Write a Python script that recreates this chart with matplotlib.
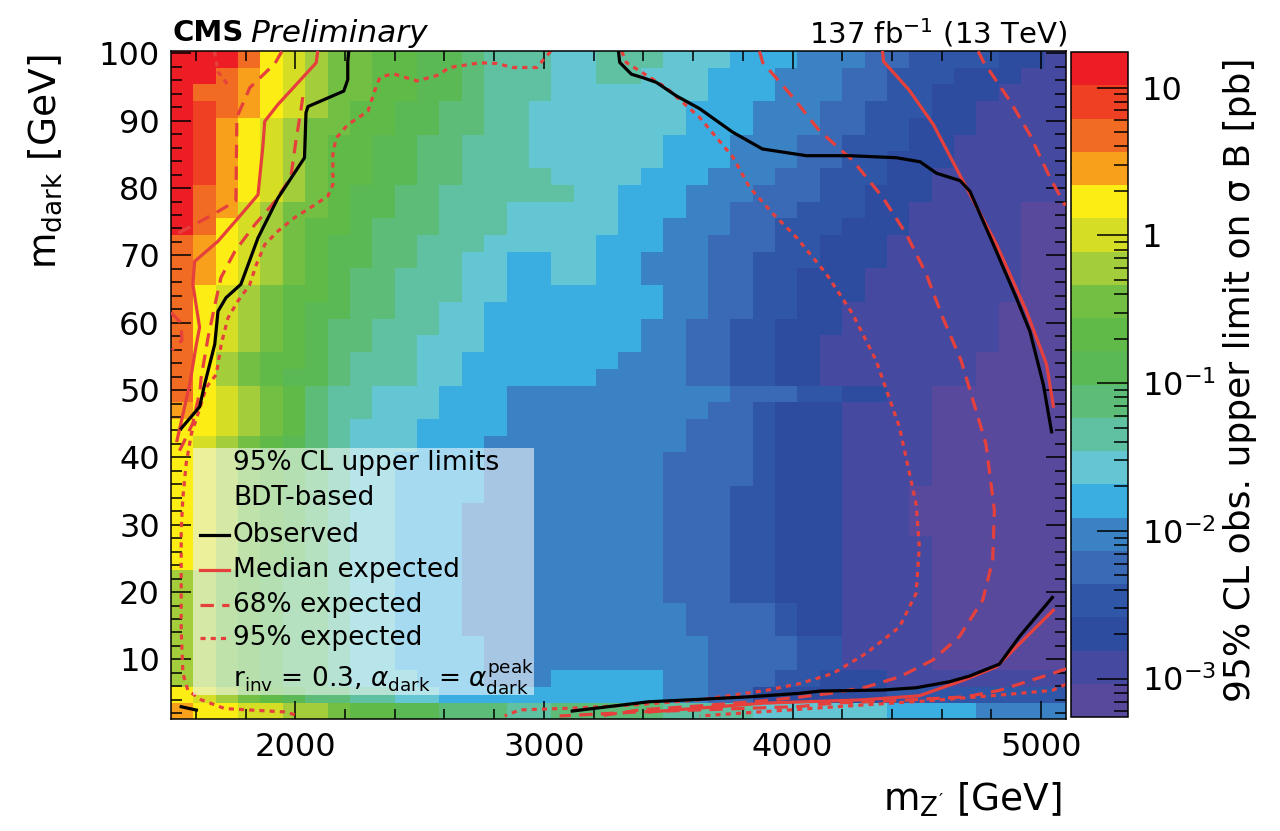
import numpy as np
import matplotlib
matplotlib.use("Agg")
import matplotlib.pyplot as plt
from matplotlib.colors import ListedColormap, LogNorm
from matplotlib.patches import Rectangle
from matplotlib.ticker import FixedLocator, MultipleLocator, LogLocator, NullFormatter

plt.rcParams['font.family'] = ['DejaVu Sans']
plt.rcParams['mathtext.fontset'] = 'dejavusans'

# ---------------- limit map ----------------
# 40 x 40 bins in (m_Z', m_dark); each character is the palette band of the
# observed upper limit in that bin (top row = highest m_dark).
mzp_range = (1500.0, 5100.0)
mdark_range = (1.0, 100.35)
band_codes = "0123456789ABCDEFGHIJ"
sigma_min, sigma_max = 5.5e-4, 17.4

limit_band_rows = [
    "JJJHFEDCCBBAA988877888777666555443333221",
    "JJHGFEDCCBBAA988877887776665554433322211",
    "JHHGFEDCCBBAA988877777776665554433222111",
    "JIHGFEDCBBAA9988777777766655544333221111",
    "JIGFEDCCBBAA9988777777766655544332221111",
    "JIGFEDCBBAA99888777777666555443332211111",
    "JIGFEDCBBAA99888777777666555443322211111",
    "JIGFEDCBBAA99888877776665554433322111111",
    "JHGFEDCBAA998888887766655544433222111111",
    "JHGEDCCBAA998887777766655444333221111100",
    "JHFEDCBBA9998887777766555443332221111100",
    "HGFEDCBAA9988877777666554443322211111100",
    "HGFEDCBAA9988776677665554433322211111100",
    "HGFEDCBA99888776677665554433222111111100",
    "HFEDCBBA99888776666666554433222111111100",
    "HFEDCBAA99887766666666554433221111111000",
    "HFEDCBA998887766666665544332221111111000",
    "HFEDCBA998877766666665544332211111111000",
    "HFDCBBA988877666666655544332211111110000",
    "HFDCBAA988877666666555544332211111110000",
    "HFEDCB9887776665555555555444332211000000",
    "GFEDCB9887776665555555554432221111000000",
    "FFEDCB9877766665555555544432221111000000",
    "FEDCBA9877766655555555544432221111000000",
    "FEDCBA9877666655555555444432221111000000",
    "FEDCBA9877666655555555444432221111000000",
    "FEDCBA9877666655555555444332221110000000",
    "FEDCBA9877666555555555444332221110000000",
    "FEDCBA9877666555555555444332221110000000",
    "FEDCBA9877666555555555444332221111000000",
    "FEDCBA9877666555555555444332221111000000",
    "DDCBA99877666555555555444332221111000000",
    "DDCBA99877666555555555444332221111000000",
    "DDCBA99877666555555555544443221111000000",
    "DDCBA99877666555555555544443221111000000",
    "DDCBA99877666655555555554444331111000000",
    "DDCBA99877666655555555554444331111000000",
    "DDCBA99877766655566666554443322211111111",
    "FEDCBA9988776666666666554422222233333333",
    "GFFEEDDCBBAA9998899999888877777766665555",
]

palette = [
    '#58499d', '#4549a0', '#2e4c9f', '#2f56a7', '#3a6ab5',
    '#3b82c4', '#3aaee1', '#63c6d2', '#5fc1a2', '#5dbd78',
    '#5bb955', '#5fba47', '#72bf44', '#a3cd3b', '#d5de24',
    '#fced14', '#f8a01c', '#f26b22', '#ef4023', '#ec1d25',
]

# ---------------- exclusion contours (m_Z' [GeV], m_dark [GeV]) ----------------
obs_left_mzp = [2215, 2211, 2211, 2195, 2051, 2043, 2037, 1930, 1850, 1781, 1721, 1689, 1676, 1635, 1615, 1541]
obs_left_mdark = [100.3, 98.8, 96.1, 94.4, 92.1, 91.2, 84.5, 78.5, 72.6, 65.7, 63.7, 61.7, 56.8, 50.8, 47.5, 44.3]
obs_right_mzp = [3300, 3305, 3352, 3397, 3452, 3532, 3626, 3759, 3879, 4056, 4232, 4418, 4513, 4579, 4674, 4714,
                 4808, 4900, 4955, 5009, 5042]
obs_right_mdark = [100.3, 98.65, 96.9, 96.4, 95.7, 93.7, 91.8, 88.3, 85.8, 84.8, 84.8, 84.5, 83.9, 82.2, 81.1, 79.5,
                   71.6, 63.7, 58.7, 50.8, 43.8]
obs_bottom_mzp = [3114, 3422, 3626, 3827, 4028, 4112, 4361, 4497, 4631, 4711, 4832, 4912, 5045]
obs_bottom_mdark = [2.33, 3.71, 4.07, 4.45, 4.96, 5.3, 5.45, 5.79, 6.68, 7.52, 9.3, 13.35, 19.2]
obs_corner_mzp = [1541, 1602]
obs_corner_mdark = [2.97, 2.48]

med_left_mzp = [2090, 2084, 1930, 1877, 1870, 1850, 1783, 1689, 1595, 1588, 1615, 1602, 1575, 1540, 1524]
med_left_mdark = [100.3, 98.6, 92.4, 89.9, 86.4, 79.0, 76.1, 72.1, 69.1, 65.7, 59.3, 56.8, 50.8, 45.1, 42.5]
med_right_mzp = [4362, 4366, 4470, 4567, 4679, 4821, 4941, 5022, 5049]
med_right_mdark = [100.3, 98.8, 94.5, 89.4, 81.5, 71.6, 61.7, 53.8, 47.6]
med_bottom_mzp = [3425, 3883, 4285, 4510, 4687, 4820, 4956, 5049]
med_bottom_mdark = [2.2, 3.5, 4.0, 4.6, 6.9, 8.9, 13.9, 17.3]

e68_left_a_mzp = [1946, 1918, 1817, 1765, 1761, 1689, 1596, 1504]
e68_left_a_mdark = [100.3, 98.5, 94.9, 90.5, 78.1, 76.5, 74.6, 72.8]
e68_left_b_mzp = [1500, 1540, 1544, 1504]
e68_left_b_mdark = [61.5, 60.0, 57.4, 55.9]
e68_left_c_mzp = [2030, 2022, 2002, 1982, 1918, 1838, 1757, 1701, 1677, 1649, 1621, 1617, 1588, 1548, 1520]
e68_left_c_mdark = [93.5, 91.4, 86.9, 81.6, 78.0, 74.6, 70.6, 66.7, 62.7, 57.8, 51.8, 50.0, 45.1, 42.0, 40.0]
e68_loop_mzp = [3867, 3880, 4001, 4108, 4242, 4363, 4457, 4537, 4604, 4678, 4778, 4812, 4805, 4765, 4671, 4564,
                4430, 4296, 4161, 4028, 3867, 3626, 3385, 3224]
e68_loop_mdark = [100.3, 98.65, 93.5, 88.5, 84.1, 78.6, 73.2, 67.3, 60.8, 54.4, 42.0, 32.1, 24.7, 18.8, 13.4, 9.9,
                  7.4, 5.9, 5.0, 4.4, 3.8, 3.1, 2.5, 1.6]
e68_right_mzp = [4747, 4767, 4875, 4955, 5036, 5097]
e68_right_mdark = [100.3, 98.8, 92.9, 87.9, 81.5, 77.4]
e68_bottom_mzp = [5100, 5045, 4832, 4698, 4430, 4162, 4028, 3385, 3063]
e68_bottom_mdark = [8.6, 7.9, 5.4, 4.45, 3.9, 3.5, 3.0, 2.2, 1.6]

e95_left_mzp = [3027, 2971, 2875, 2810, 2742, 2621, 2569, 2489, 2392, 2340, 2319, 2292, 2211, 2164, 2151, 2151,
                2131, 2078, 1997, 1930, 1877, 1843, 1816, 1769, 1729, 1702, 1682, 1642, 1609, 1582, 1561, 1548,
                1541, 1541, 1541, 1548, 1568, 1622, 1716, 1957, 2018]
e95_left_mdark = [100.3, 97.9, 97.9, 98.5, 98.6, 97.9, 96.7, 95.9, 97.0, 96.4, 94.4, 91.4, 89.4, 87.4, 85.0, 80.5,
                  78.8, 77.5, 75.6, 73.6, 71.6, 68.6, 65.6, 63.2, 60.7, 56.8, 52.3, 50.4, 46.5, 43.5, 39.1, 34.1,
                  29.2, 21.8, 14.3, 7.9, 5.4, 4.0, 2.7, 2.2, 1.6]
e95_corner_mzp = [1675, 1690, 1715, 1735]
e95_corner_mdark = [100.3, 97.2, 96.0, 95.0]
e95_loop_mzp = [3313, 3331, 3492, 3626, 3760, 3827, 3921, 4015, 4135, 4242, 4336, 4430, 4497, 4510, 4497, 4430,
                4296, 4162, 4028, 3894, 3760, 3626, 3385, 3144, 2903, 2842]
e95_loop_mdark = [100.3, 98.65, 94.9, 90.5, 84.6, 80.1, 76.2, 72.7, 67.3, 61.3, 54.4, 44.5, 33.1, 26.7, 19.8, 14.8,
                  10.9, 7.9, 6.4, 5.4, 4.7, 4.0, 3.3, 2.8, 2.5, 1.6]
e95_bottom_mzp = [5100, 5045, 4832, 4563, 4229, 3867, 3626]
e95_bottom_mdark = [6.3, 5.4, 4.7, 3.9, 3.1, 2.2, 1.6]

legend_header = ["95% CL upper limits", "BDT-based"]
legend_entries = ["Observed", "Median expected", "68% expected", "95% expected"]
legend_footer = r"r$_{\mathregular{inv}}$ = 0.3, $\alpha_{\mathregular{dark}}$ = $\alpha_{\mathregular{dark}}^{\mathregular{peak}}$"

# ---------------- figure ----------------
W, H = 1280, 831
fig = plt.figure(figsize=(W / 100, H / 100), dpi=100)


def fx(px):
    return px / W


def fy(py):
    return 1 - py / H


ax = fig.add_axes([fx(171), fy(719), fx(1066) - fx(171), fy(51) - fy(719)])

band_index = np.array([[band_codes.index(ch) for ch in row] for row in limit_band_rows])[::-1]
log_lo, log_hi = np.log10(sigma_min), np.log10(sigma_max)
limit = 10 ** (log_lo + (band_index + 0.5) * (log_hi - log_lo) / len(palette))

cmap = ListedColormap(palette)
norm = LogNorm(vmin=sigma_min, vmax=sigma_max)
img = ax.imshow(limit, origin='lower', extent=[*mzp_range, *mdark_range], aspect='auto',
                cmap=cmap, norm=norm, interpolation='nearest', zorder=0)

red = '#e6403c'
lw = 2.3
dash68 = (4.2, 2.6)
dot95 = (1.6, 1.6)

for xs, ys in [(e95_left_mzp, e95_left_mdark), (e95_corner_mzp, e95_corner_mdark),
               (e95_loop_mzp, e95_loop_mdark), (e95_bottom_mzp, e95_bottom_mdark)]:
    ax.plot(xs, ys, color=red, lw=lw, linestyle=(0, dot95), zorder=2)
for xs, ys in [(e68_left_a_mzp, e68_left_a_mdark), (e68_left_b_mzp, e68_left_b_mdark),
               (e68_left_c_mzp, e68_left_c_mdark), (e68_loop_mzp, e68_loop_mdark),
               (e68_right_mzp, e68_right_mdark), (e68_bottom_mzp, e68_bottom_mdark)]:
    ax.plot(xs, ys, color=red, lw=lw, linestyle=(0, dash68), zorder=3)
for xs, ys in [(med_left_mzp, med_left_mdark), (med_right_mzp, med_right_mdark),
               (med_bottom_mzp, med_bottom_mdark)]:
    ax.plot(xs, ys, color=red, lw=lw, zorder=4)
for xs, ys in [(obs_left_mzp, obs_left_mdark), (obs_right_mzp, obs_right_mdark),
               (obs_bottom_mzp, obs_bottom_mdark), (obs_corner_mzp, obs_corner_mdark)]:
    ax.plot(xs, ys, color='black', lw=lw, zorder=5)

ax.set_xlim(*mzp_range)
ax.set_ylim(1.15, 100.35)

ax.xaxis.set_major_locator(FixedLocator([2000, 3000, 4000, 5000]))
ax.xaxis.set_minor_locator(MultipleLocator(200))
ax.yaxis.set_major_locator(FixedLocator(list(range(10, 101, 10))))
ax.yaxis.set_minor_locator(MultipleLocator(2))
ax.tick_params(which='both', direction='in', top=True, right=True, width=1.1, color='black')
ax.tick_params(axis='x', which='major', length=13, labelsize=23, pad=9)
ax.tick_params(axis='x', which='minor', length=7)
ax.tick_params(axis='y', which='major', length=14.5, labelsize=23, pad=8)
ax.tick_params(axis='y', which='minor', length=8)
for s in ax.spines.values():
    s.set_linewidth(1.1)

# legend box (semi-transparent, drawn over the map)
ax.add_patch(Rectangle((fx(193), fy(695)), fx(534) - fx(193), fy(448) - fy(695),
                       transform=fig.transFigure, facecolor='white', alpha=0.55,
                       edgecolor='none', zorder=6, clip_on=False))
text_x = fx(233)
fs_leg = 19
fig.text(text_x, fy(463), legend_header[0], fontsize=fs_leg, va='center', ha='left', zorder=7)
fig.text(text_x, fy(498), legend_header[1], fontsize=fs_leg, va='center', ha='left', zorder=7)
entry_y = [535, 570, 605, 638]
entry_style = [dict(color='black', linestyle='-'), dict(color=red, linestyle='-'),
               dict(color=red, linestyle=(0, dash68)), dict(color=red, linestyle=(0, dot95))]
for label, py, st in zip(legend_entries, entry_y, entry_style):
    fig.add_artist(plt.Line2D([fx(200), fx(229)], [fy(py), fy(py)], lw=lw, transform=fig.transFigure,
                              zorder=7, **st))
    fig.text(text_x, fy(py), label, fontsize=fs_leg, va='center', ha='left', zorder=7)
fig.text(text_x, fy(677), legend_footer, fontsize=fs_leg, va='center', ha='left', zorder=7)

# colour scale
cax = fig.add_axes([fx(1071), fy(717), fx(1128) - fx(1071), fy(52) - fy(717)])
cb = fig.colorbar(img, cax=cax)
cb.outline.set_linewidth(1.1)
cb.set_ticks([1e-3, 1e-2, 1e-1, 1, 10])
cb.set_ticklabels([r'10$^{-3}$', r'10$^{-2}$', r'10$^{-1}$', '1', '10'])
cax.yaxis.set_minor_locator(LogLocator(base=10, subs=np.arange(2, 10)))
cax.yaxis.set_minor_formatter(NullFormatter())
cax.tick_params(which='major', direction='in', length=22, width=1.1, labelsize=23, pad=10)
cax.tick_params(which='minor', direction='in', length=10, width=1.1)

fig.text(fx(1240), fy(58), '95% CL obs. upper limit on σ B [pb]', rotation=90,
         ha='center', va='top', fontsize=26)

# axis titles
fig.text(fx(45), fy(55), r'm$_{\mathregular{dark}}$ [GeV]', rotation=90, ha='center', va='top', fontsize=27)
fig.text(fx(1062), fy(800), r"m$_{\mathregular{Z'}}$ [GeV]", ha='right', va='center', fontsize=27)

# header
renderer = fig.canvas.get_renderer()
cms = fig.text(fx(172), fy(33), 'CMS', fontsize=21, weight='bold', ha='left', va='center')
bb = cms.get_window_extent(renderer=renderer)
fig.text(bb.x1 / W + fx(7), fy(33), 'Preliminary', fontsize=22.5, style='italic', ha='left', va='center')
fig.text(fx(1067), fy(33), r'137 fb$^{-1}$ (13 TeV)', fontsize=21, ha='right', va='center')

fig.savefig('out.png', dpi=100)
